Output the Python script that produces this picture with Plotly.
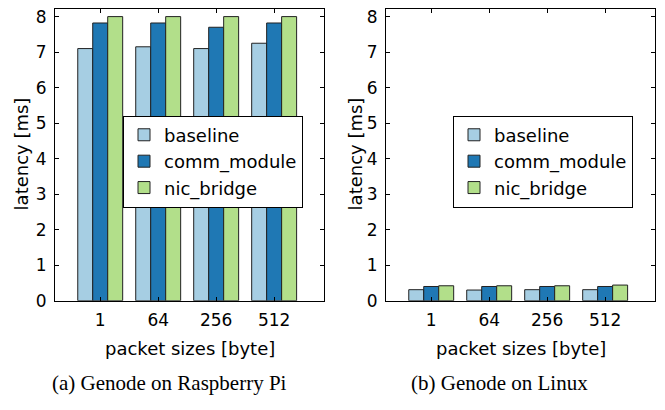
import plotly.graph_objects as go

categories = ["1", "64", "256", "512"]
series_names = ["baseline", "comm_module", "nic_bridge"]

rpi_baseline = [7.10, 7.15, 7.10, 7.25]
rpi_comm_module = [7.82, 7.82, 7.70, 7.82]
rpi_nic_bridge = [8.0, 8.0, 8.0, 8.0]

linux_baseline = [0.31, 0.30, 0.31, 0.31]
linux_comm_module = [0.40, 0.40, 0.40, 0.40]
linux_nic_bridge = [0.42, 0.42, 0.42, 0.44]

y_ticks = [0, 1, 2, 3, 4, 5, 6, 7, 8]
colors = ["#a6cee3", "#1f78b4", "#b2df8a"]

W, H = 665, 410
FONT = "DejaVu Sans"

fig = go.Figure()

left = [rpi_baseline, rpi_comm_module, rpi_nic_bridge]
right = [linux_baseline, linux_comm_module, linux_nic_bridge]

for i, (name, vals) in enumerate(zip(series_names, left)):
    fig.add_trace(go.Bar(x=categories, y=vals, name=name, xaxis="x", yaxis="y",
                         marker=dict(color=colors[i], line=dict(color="#222222", width=1)),
                         legend="legend", offsetgroup=str(i)))
for i, (name, vals) in enumerate(zip(series_names, right)):
    fig.add_trace(go.Bar(x=categories, y=vals, name=name, xaxis="x2", yaxis="y2",
                         marker=dict(color=colors[i], line=dict(color="#222222", width=1)),
                         legend="legend2", offsetgroup=str(i)))

def px_x(p):
    return p / W

def px_y(p):
    return 1 - p / H

ydom = [px_y(307.7), px_y(7)]
axis_common = dict(showline=True, linecolor="black", linewidth=1, mirror="allticks",
                   ticks="inside", ticklen=4, tickcolor="black", showgrid=False,
                   zeroline=False, ticklabelstandoff=4,
                   tickfont=dict(family=FONT, size=17, color="black"))

xrange = [-0.78, 3.86]
yrange = [0, 8.22]

legend_common = dict(xanchor="left", yanchor="top", bgcolor="white", bordercolor="black",
                     borderwidth=1, font=dict(family=FONT, size=18, color="black"),
                     tracegroupgap=0)

fig.update_layout(
    width=W, height=H,
    margin=dict(l=0, r=0, t=0, b=0),
    paper_bgcolor="white", plot_bgcolor="white",
    barmode="group", bargap=0.225, bargroupgap=0,
    font=dict(family=FONT, color="black"),
    xaxis=dict(domain=[px_x(55), px_x(324)], anchor="y", range=xrange, type="category", **axis_common),
    yaxis=dict(domain=ydom, anchor="x", range=yrange, tickvals=y_ticks, **axis_common),
    xaxis2=dict(domain=[px_x(386), px_x(655)], anchor="y2", range=xrange, type="category", **axis_common),
    yaxis2=dict(domain=ydom, anchor="x2", range=yrange, tickvals=y_ticks, **axis_common),
    legend=dict(x=px_x(123), y=px_y(117), **legend_common),
    legend2=dict(x=px_x(453), y=px_y(117), **legend_common),
)

annots = [
    dict(text="packet sizes [byte]", x=px_x(189.5), y=px_y(357), font=dict(family=FONT, size=18)),
    dict(text="packet sizes [byte]", x=px_x(520.5), y=px_y(357), font=dict(family=FONT, size=18)),
    dict(text="latency [ms]", x=px_x(21), y=px_y(157), textangle=-90, font=dict(family=FONT, size=18)),
    dict(text="latency [ms]", x=px_x(355), y=px_y(157), textangle=-90, font=dict(family=FONT, size=18)),
    dict(text="(a) Genode on Raspberry Pi", x=px_x(169), y=px_y(393), font=dict(family="Liberation Serif", size=21)),
    dict(text="(b) Genode on Linux", x=px_x(499), y=px_y(393), font=dict(family="Liberation Serif", size=21)),
]
for a in annots:
    a.update(xref="paper", yref="paper", showarrow=False, xanchor="center", yanchor="middle")
    a["font"]["color"] = "black"
    fig.add_annotation(**a)

page_fix = (
    "document.documentElement.style.margin='0';"
    "document.documentElement.style.overflow='hidden';"
    "document.body.style.margin='0';"
    "document.body.style.overflow='hidden';"
    "document.body.style.height='410px';"
    "document.body.style.lineHeight='0';"
)

fig.write_html("out.html", config={"displayModeBar": False}, post_script=page_fix)
